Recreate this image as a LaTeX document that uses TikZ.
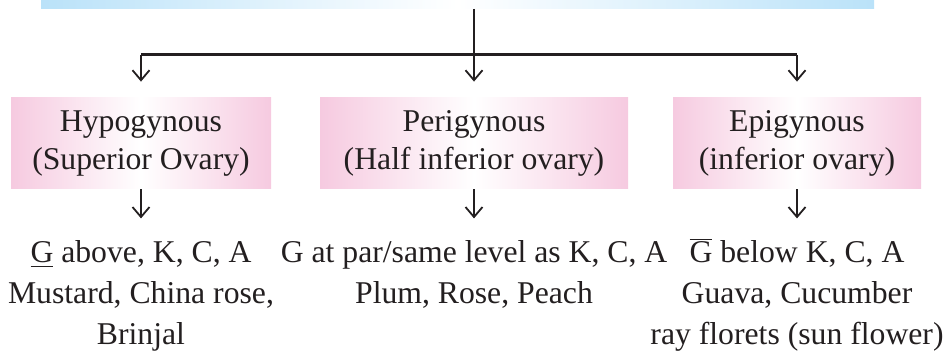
\documentclass[tikz,border=0pt]{standalone}
\usepackage{fontspec}
\setmainfont{Liberation Serif}
\usepackage{tikz}
\usetikzlibrary{arrows.meta,positioning}
\definecolor{figpink}{RGB}{246,202,224}
\definecolor{figblue}{RGB}{186,226,249}
\definecolor{figline}{RGB}{35,31,32}
\tikzset{
  headbox/.style={left color=figblue, right color=figblue, middle color=white, minimum width=416.5pt, minimum height=40pt, inner sep=0pt},
  typebox/.style={left color=figpink, right color=figpink, middle color=white, minimum height=45.5pt, inner sep=0pt, align=center, text=figline, font=\fontsize{15.85}{19}\selectfont},
  infotext/.style={inner sep=0pt, align=center, text=figline, font=\fontsize{15.85}{20.5}\selectfont},
  stem/.style={draw=figline, line width=1pt},
  bar/.style={draw=figline, line width=1.5pt},
  line/.style={-{Straight Barb[length=5pt, width=8.5pt, line width=0.9pt]}, draw=figline, line width=1pt}
}

\begin{document}
\begin{tikzpicture}[x=0.5pt,y=-0.5pt]
  \useasboundingbox (0,0) rectangle (951,352);
  \node[headbox, anchor=south] (pos) at (457.5,9) {};
  \coordinate (split) at (474,55);
  \node[typebox, minimum width=130pt] (hypo) at (141,143.5) {Hypogynous\\(Superior Ovary)};
  \node[typebox, minimum width=154pt] (peri) at (474,143.5) {Perigynous\\(Half inferior ovary)};
  \node[typebox, minimum width=124pt] (epi) at (797,143.5) {Epigynous\\(inferior ovary)};
  \node[infotext, anchor=north, below=25.5pt of hypo] (hypoinfo) {\underline{G} above, K, C, A\\Mustard, China rose,\\Brinjal};
  \node[infotext, anchor=north, below=25.5pt of peri] (periinfo) {G at par/same level as K, C, A\\Plum, Rose, Peach};
  \node[infotext, anchor=north, below=25.5pt of epi] (epiinfo) {$\smash{\overline{\hbox{G}}}$ below K, C, A\\Guava, Cucumber\\ray florets (sun flower)};
  % branches
  \draw[stem] (pos.south -| split) -- (split);
  \draw[bar] (hypo.north |- split) -- (epi.north |- split);
  \draw[line, shorten >=8pt] (hypo.north |- split) -- (hypo.north);
  \draw[line, shorten >=8pt] (peri.north |- split) -- (peri.north);
  \draw[line, shorten >=8pt] (epi.north |- split) -- (epi.north);
  \draw[line, shorten >=11pt] (hypo.south) -- (hypoinfo.north);
  \draw[line, shorten >=11pt] (peri.south) -- (periinfo.north);
  \draw[line, shorten >=11pt] (epi.south) -- (epiinfo.north);
\end{tikzpicture}
\end{document}
